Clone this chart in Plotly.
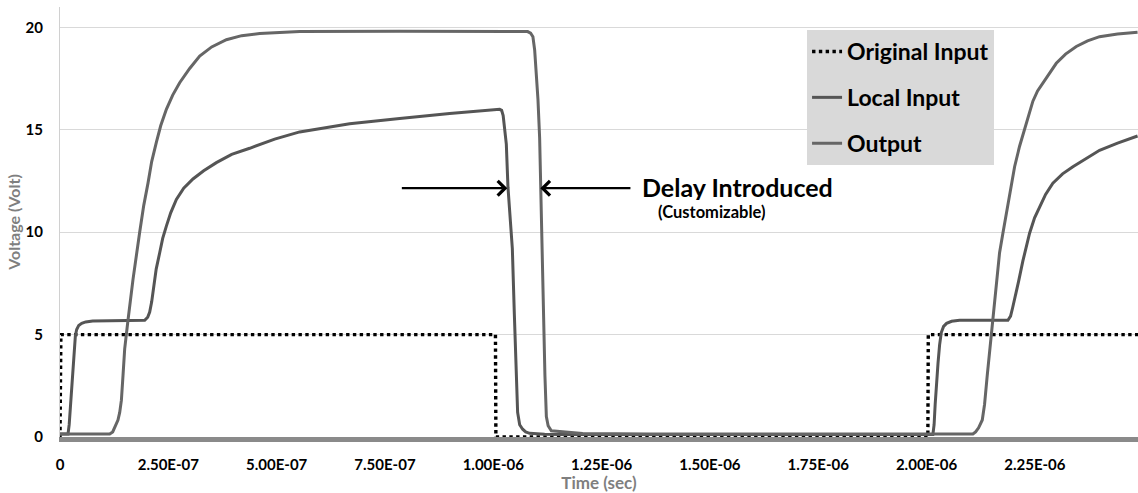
import plotly.graph_objects as go

# ---- data (time in nanoseconds, voltage in volts) ----
orig_t_ns = [0, 2, 1005, 1006, 2003, 2004, 2488]
orig_v = [0, 5, 5, 0, 0, 5, 5]

local_t_ns = [0, 18.5, 21.2, 24.0, 27.0, 30.0, 32.8, 35.5, 38.5, 43.2, 50.1, 59.3, 75.5,
              137.8, 195.5, 202.4, 207.0, 211.6, 216.2, 222.0, 230.1, 237.0, 245.5,
              255.5, 268.6, 285.5, 306.9, 331.6, 360.9, 396.2, 437.8, 495.5, 553.2,
              668.5, 783.9, 899.3, 1014.7, 1019.3, 1022.8, 1026.2, 1030.1, 1033.9,
              1038.9, 1044.0, 1048.6, 1053.2, 1056.2, 1060.9, 1067.8, 1074.7, 1083.9,
              1118.5, 1153.2, 2014.6, 2017.4, 2019.9, 2022.5, 2026.4, 2030.1, 2034.0,
              2039.3, 2046.2, 2057.8, 2076.3, 2187.7, 2193.9, 2198.5, 2203.2, 2212.4,
              2222.3, 2230.8, 2237.8, 2249.3, 2260.9, 2274.7, 2291.5, 2313.9, 2337.7,
              2367.0, 2399.3, 2440.8, 2487.0]
local_v = [0.15, 0.15, 0.6, 1.5, 2.6, 3.7, 4.5, 4.95, 5.25, 5.45, 5.55, 5.62, 5.66,
           5.7, 5.7, 5.85, 6.1, 6.6, 7.4, 8.2, 9.0, 9.7, 10.3,
           10.95, 11.6, 12.15, 12.6, 13.0, 13.4, 13.8, 14.1, 14.55, 14.9,
           15.3, 15.55, 15.8, 16.0, 15.95, 15.7, 15.0, 14.3, 12.2,
           10.5, 9.2, 6.0, 2.3, 1.2, 0.6, 0.38, 0.25, 0.18,
           0.14, 0.12, 0.12, 0.6, 1.6, 2.5, 3.6, 4.5, 5.1,
           5.4, 5.55, 5.65, 5.7, 5.7, 5.9, 6.3, 6.7, 7.6,
           8.6, 9.35, 9.95, 10.7, 11.25, 11.85, 12.4, 12.85, 13.2,
           13.6, 14.0, 14.35, 14.7]

out_t_ns = [0, 114.7, 121.6, 128.5, 133.8, 137.8, 141.7, 145.4, 149.3, 156.9, 168.5,
            183.9, 193.2, 203.1, 211.6, 222.5, 232.4, 245.5, 260.1, 276.2, 299.3,
            322.4, 350.1, 384.0, 419.3, 460.9, 553.2, 783.9, 1067.8, 1079.3, 1086.2,
            1091.5, 1095.5, 1099.4, 1103.1, 1107.0, 1109.3, 1113.2, 1116.2, 1119.2,
            1122.5, 1126.6, 1134.0, 1153.2, 1183.2, 1206.2, 1360.9, 2106.9, 2113.2,
            2120.1, 2128.6, 2133.9, 2140.0, 2145.5, 2153.1, 2160.9, 2168.5, 2176.2,
            2189.3, 2203.2, 2214.7, 2226.2, 2235.5, 2245.4, 2256.2, 2268.5, 2283.9,
            2299.4, 2320.8, 2345.6, 2371.6, 2399.3, 2440.8, 2487.0]
out_v = [0.15, 0.15, 0.25, 0.55, 0.83, 1.2, 1.8, 3.0, 4.3, 5.7, 7.7,
         10.0, 11.3, 12.4, 13.45, 14.4, 15.2, 16.0, 16.7, 17.3, 18.0,
         18.6, 19.05, 19.4, 19.6, 19.7, 19.8, 19.82, 19.82, 19.8, 19.72,
         19.55, 18.9, 17.8, 16.5, 14.6, 12.2, 9.2, 5.7, 3.0,
         1.0, 0.55, 0.3, 0.26, 0.23, 0.17, 0.15, 0.15, 0.25,
         0.45, 0.83, 1.6, 3.0, 4.2, 5.7, 7.6, 9.0, 9.95,
         11.6, 13.2, 14.2, 15.0, 15.75, 16.4, 16.9, 17.3, 17.8,
         18.25, 18.7, 19.07, 19.35, 19.55, 19.68, 19.77]

x_tickvals = [0, 2.5e-7, 5e-7, 7.5e-7, 1e-6, 1.25e-6, 1.5e-6, 1.75e-6, 2e-6, 2.25e-6]
x_ticktext = ["0", "2.50E-07", "5.00E-07", "7.50E-07", "1.00E-06", "1.25E-06",
              "1.50E-06", "1.75E-06", "2.00E-06", "2.25E-06"]
y_tickvals = [0, 5, 10, 15, 20]

FONT = "Lato"
ns = lambda arr: [t * 1e-9 for t in arr]

fig = go.Figure()
fig.add_trace(go.Scatter(x=ns(orig_t_ns), y=orig_v, mode="lines", name="Original Input",
                         line=dict(color="#000000", width=3.4, dash="3.4px,3.4px"),
                         legendgroup="a"))
fig.add_trace(go.Scatter(x=ns(local_t_ns), y=local_v, mode="lines", name="Local Input",
                         line=dict(color="#555555", width=3), legendgroup="b"))
fig.add_trace(go.Scatter(x=ns(out_t_ns), y=out_v, mode="lines", name="Output",
                         line=dict(color="#666666", width=3), legendgroup="c"))

fig.update_layout(
    width=1138, height=493,
    margin=dict(l=60, r=0, t=7, b=56),
    paper_bgcolor="white", plot_bgcolor="white",
    font=dict(family=FONT, color="#000000"),
    showlegend=True,
    legend=dict(x=0.693, y=0.9465, xanchor="left", yanchor="top",
                bgcolor="#d9d9d9", borderwidth=0,
                font=dict(family=FONT, size=23, color="#000000", weight="bold"),
                tracegroupgap=13, itemwidth=30),
    xaxis=dict(range=[0, 2.488e-6], tickvals=x_tickvals, ticktext=x_ticktext,
               showgrid=False, zeroline=False, showline=True, linecolor="#8a8a8a",
               linewidth=5, ticks="", ticklabelstandoff=10,
               tickfont=dict(family=FONT, size=15, color="#000000", weight="bold"),
               title=dict(text="Time (sec)", standoff=4,
                          font=dict(family=FONT, size=17, color="#7f7f7f", weight="bold"))),
    yaxis=dict(range=[0, 21.0], tickvals=y_tickvals, showgrid=True, gridcolor="#d9d9d9",
               gridwidth=1, zeroline=False, showline=True, linecolor="#d0d0d0",
               linewidth=1, ticks="", ticklabelstandoff=13,
               tickfont=dict(family=FONT, size=15, color="#000000", weight="bold"),
               title=dict(text="Voltage (Volt)", standoff=0,
                          font=dict(family=FONT, size=16, color="#7f7f7f", weight="bold"))),
)

fig.add_annotation(x=1.0325e-6, y=12.15, ax=7.855e-7, ay=12.15, xref="x", yref="y",
                   axref="x", ayref="y", text="", showarrow=True, arrowhead=4,
                   arrowsize=1.3, arrowwidth=2.2, arrowcolor="#000000")
fig.add_annotation(x=1.1085e-6, y=12.15, ax=1.32e-6, ay=12.15, xref="x", yref="y",
                   axref="x", ayref="y", text="", showarrow=True, arrowhead=4,
                   arrowsize=1.3, arrowwidth=2.2, arrowcolor="#000000")
fig.add_annotation(x=640, y=187, xref="paper", yref="paper", text="Delay Introduced",
                   showarrow=False, xanchor="left", yanchor="middle", height=26,
                   font=dict(family=FONT, size=25, color="#000000", weight="bold"))
fig.add_annotation(x=712, y=212, xref="paper", yref="paper", text="(Customizable)",
                   showarrow=False, xanchor="center", yanchor="middle", height=18,
                   font=dict(family=FONT, size=16.5, color="#000000", weight="bold"))

# convert pixel positions of the two text annotations to paper coords
pw, ph = 1138 - 60 - 0, 493 - 7 - 56
for ann in fig.layout.annotations[2:]:
    ann.x = (ann.x - 60) / pw
    ann.y = 1 - (ann.y - 7) / ph

fig.write_html("out.html")
